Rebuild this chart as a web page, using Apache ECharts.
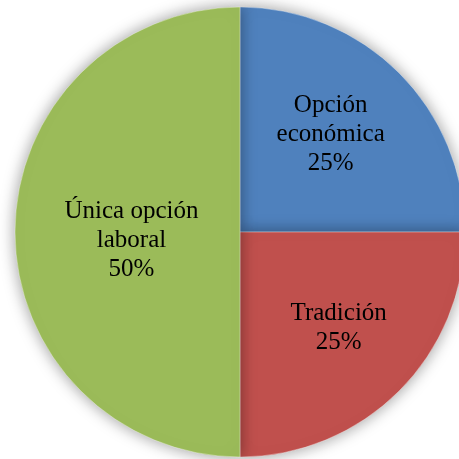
<!DOCTYPE html>
<html>
<head>
<meta charset="utf-8">
<script src="https://cdn.jsdelivr.net/npm/echarts@6/dist/echarts.min.js"></script>
<style>html,body{margin:0;padding:0;background:#fff}#c{width:459px;height:459px}</style>
</head>
<body>
<div id="c"></div>
<script>
var categories = ['Opción\neconómica', 'Tradición', 'Única opción\nlaboral'];
var values = [25, 25, 50];
var colors = ['#4F81BD', '#C0504D', '#9BBB59'];
var labelShift = [[9, -16], [17, 14], [7, 8]];

var chart = echarts.init(document.getElementById('c'), null, {renderer: 'canvas'});
chart.setOption({
  backgroundColor: '#ffffff',
  animation: false,
  series: [{
    type: 'pie',
    center: [240, 232],
    radius: 225,
    startAngle: 90,
    clockwise: true,
    silent: true,
    data: categories.map(function (c, i) {
      return {name: c, value: values[i], itemStyle: {color: colors[i]}};
    }),
    itemStyle: {
      borderColor: 'rgba(255,255,255,0.6)',
      borderWidth: 0.6,
      shadowBlur: 16,
      shadowColor: 'rgba(0,0,0,0.4)'
    },
    label: {
      show: true,
      position: 'inside',
      formatter: function (p) { return p.name + '\n' + Math.round(p.percent) + '%'; },
      fontFamily: 'Liberation Serif',
      fontSize: 25,
      lineHeight: 29,
      color: '#000000',
      align: 'center'
    },
    labelLine: {show: false},
    labelLayout: function (p) {
      var s = labelShift[p.dataIndex];
      return {dx: s[0], dy: s[1]};
    }
  }]
});
</script>
</body>
</html>
